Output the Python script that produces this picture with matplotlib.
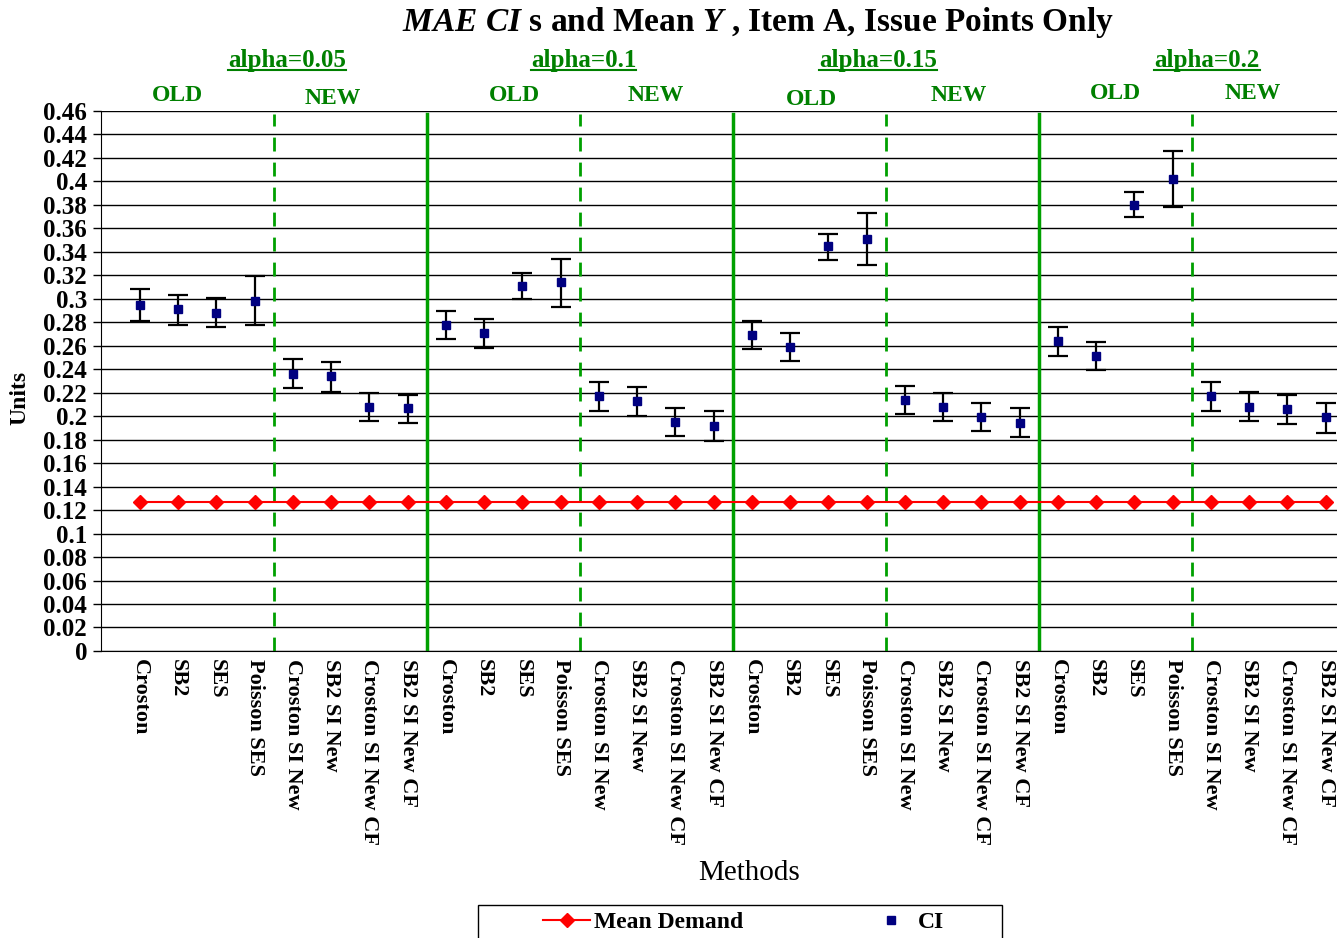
import numpy as np
import matplotlib.pyplot as plt
from matplotlib.lines import Line2D
from matplotlib.patches import Rectangle

plt.rcParams['font.family'] = 'Liberation Serif'
plt.rcParams['mathtext.fontset'] = 'custom'
plt.rcParams['mathtext.rm'] = 'Liberation Serif:bold'
plt.rcParams['mathtext.it'] = 'Liberation Serif:italic:bold'

# methods, repeated for each alpha
methods = ['Croston', 'SB2', 'SES', 'Poisson SES',
           'Croston SI New', 'SB2 SI New', 'Croston SI New CF', 'SB2 SI New CF']
alphas = ['alpha=0.05', 'alpha=0.1', 'alpha=0.15', 'alpha=0.2']
labels = methods * len(alphas)

# CI centre, upper and lower bounds (alpha 0.05 / 0.1 / 0.15 / 0.2)
ci_mid = [0.295, 0.291, 0.288, 0.298, 0.236, 0.234, 0.208, 0.207,
          0.278, 0.271, 0.311, 0.314, 0.217, 0.213, 0.195, 0.192,
          0.269, 0.259, 0.345, 0.351, 0.214, 0.208, 0.199, 0.194,
          0.264, 0.251, 0.380, 0.402, 0.217, 0.208, 0.206, 0.199]
ci_hi = [0.308, 0.303, 0.301, 0.319, 0.249, 0.246, 0.220, 0.218,
         0.290, 0.283, 0.322, 0.334, 0.229, 0.225, 0.207, 0.204,
         0.281, 0.271, 0.355, 0.373, 0.226, 0.220, 0.211, 0.207,
         0.276, 0.263, 0.391, 0.426, 0.229, 0.221, 0.218, 0.211]
ci_lo = [0.281, 0.278, 0.276, 0.278, 0.224, 0.221, 0.196, 0.194,
         0.266, 0.258, 0.300, 0.293, 0.204, 0.200, 0.183, 0.179,
         0.257, 0.247, 0.333, 0.329, 0.202, 0.196, 0.187, 0.182,
         0.251, 0.239, 0.370, 0.378, 0.204, 0.196, 0.193, 0.186]
mean_demand = [0.127, 0.127, 0.127, 0.127, 0.127, 0.127, 0.127, 0.127,
               0.127, 0.127, 0.127, 0.127, 0.127, 0.127, 0.127, 0.127,
               0.127, 0.127, 0.127, 0.127, 0.127, 0.127, 0.127, 0.127,
               0.127, 0.127, 0.127, 0.127, 0.127, 0.127, 0.127, 0.127]

x = np.arange(len(labels))
mid = np.array(ci_mid)
err = np.vstack([mid - np.array(ci_lo), np.array(ci_hi) - mid])

fig = plt.figure(figsize=(13.37, 9.38), dpi=100)
ax = fig.add_axes([0.0755, 0.306, 0.9245, 0.5757])

green_line = '#00a000'
green_txt = '#008000'

ax.set_ylim(0, 0.46)
ax.set_yticks(np.arange(0, 0.461, 0.02))
ax.set_yticklabels(['0'] + ['%g' % round(v, 2) for v in np.arange(0.02, 0.461, 0.02)])
ax.yaxis.grid(True, color='black', lw=1)
ax.set_axisbelow(True)
ax.set_xlim(-1.02, 31.3)
ax.set_xticks(x)
ax.set_xticklabels(labels, rotation=270, fontweight='bold', fontsize=16, va='top', ha='center')
ax.tick_params(axis='x', length=0, pad=6)
ax.tick_params(axis='y', labelsize=18, length=6, direction='out', width=1, pad=4)
for t in ax.get_yticklabels():
    t.set_fontweight('bold')
ax.spines['top'].set_visible(False)
ax.spines['right'].set_visible(False)

# group separators: solid between alphas, dashed between OLD and NEW
for k in range(len(alphas)):
    b = k * 8 + 3.5
    ax.axvline(b, ymax=0.995, color=green_line, lw=2, ls=(0, (5, 4)))
    if k > 0:
        ax.axvline(k * 8 - 0.5, ymax=0.995, color=green_line, lw=2.5)

md_line, = ax.plot(x, mean_demand, color='red', lw=1.5, marker='D', ms=7,
                   mfc='red', mec='red', clip_on=False, zorder=3)
ax.errorbar(x, mid, yerr=err, fmt='none', ecolor='black', elinewidth=1.6,
            capsize=7, capthick=1.6, zorder=4)
ci_pts, = ax.plot(x, mid, ls='none', marker='s', ms=6, color='#000080', zorder=5)

# header labels
alpha_x = [3.84, 11.6, 19.3, 27.9]
old_new_x = [0.97, 5.04, 9.78, 13.5, 17.55, 21.4, 25.5, 29.1]
old_new_y = [1.028, 1.023, 1.028, 1.028, 1.022, 1.028, 1.032, 1.032]
tr = ax.get_xaxis_transform()
alpha_texts = []
for xa, a in zip(alpha_x, alphas):
    alpha_texts.append(ax.text(xa, 1.094, a, transform=tr, ha='center', va='center',
                               color=green_txt, fontsize=18, fontweight='bold'))
for j, (xo, yo) in enumerate(zip(old_new_x, old_new_y)):
    ax.text(xo, yo, 'OLD' if j % 2 == 0 else 'NEW', transform=tr, ha='center',
            va='center', color=green_txt, fontsize=17, fontweight='bold')

fig.text(0.567, 0.9755,
         r'$\mathit{MAE\ CI}$ s and Mean $\mathit{Y}$ , Item A, Issue Points Only',
         ha='center', va='center', fontsize=24, fontweight='bold')
fig.text(0.015, 0.576, 'Units', rotation=90, ha='center', va='center',
         fontsize=17, fontweight='bold')
fig.text(0.560, 0.069, 'Methods', ha='center', va='center', fontsize=21)

# legend with a plain box around it
leg = fig.legend([md_line, ci_pts], ['Mean Demand', 'CI'], loc='center left',
                 bbox_to_anchor=(543 / 1337, 0.017), ncol=2, frameon=False,
                 columnspacing=5.25, handlelength=2.0, handletextpad=0.15,
                 borderpad=0, borderaxespad=0,
                 prop={'weight': 'bold', 'size': 17})
fig.add_artist(Rectangle((478 / 1337, -0.01), 524 / 1337, 0.0452,
                         transform=fig.transFigure, fill=False,
                         edgecolor='black', lw=1))

# underline the alpha headers
fig.canvas.draw()
inv = fig.transFigure.inverted()
for t in alpha_texts:
    bb = t.get_window_extent()
    (x0, y0), (x1, _) = inv.transform([[bb.x0, bb.y0 + 2], [bb.x1, bb.y1]])
    fig.add_artist(Line2D([x0, x1], [y0, y0], color=green_txt, lw=1.5))

fig.savefig('out.png', dpi=100)
